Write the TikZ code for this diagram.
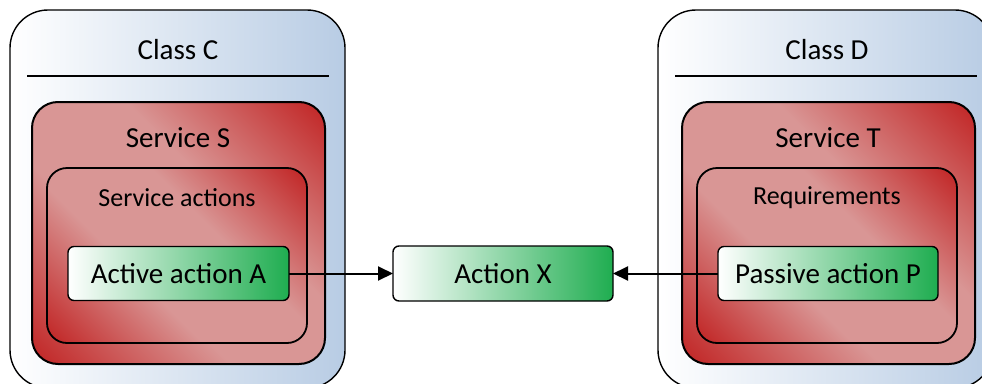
\documentclass[tikz,border=0pt]{standalone}
\usepackage{fontspec}
\setmainfont{Carlito}
\usetikzlibrary{arrows.meta}
\definecolor{dred}{RGB}{192,32,32}
\definecolor{lred}{RGB}{217,150,149}
\definecolor{cblue}{RGB}{184,204,228}
\definecolor{cgreen}{RGB}{31,173,80}
\pgfdeclarehorizontalshading{redband}{100bp}{color(0bp)=(dred); color(14bp)=(dred); color(40bp)=(lred); color(60bp)=(lred); color(86bp)=(dred); color(100bp)=(dred)}
\tikzset{
  classbox/.style={draw=black, line width=1.4pt, rounded corners=38pt, left color=white, right color=cblue, minimum width=335pt, minimum height=378pt, inner sep=0pt, outer sep=0pt},
  servbox/.style={draw=black, line width=2pt, rounded corners=26pt, shading=redband, shading angle=45, minimum width=293pt, minimum height=262pt, inner sep=0pt, outer sep=0pt},
  inbox/.style={draw=black, line width=1.8pt, rounded corners=20pt, shading=redband, shading angle=45, minimum width=260pt, minimum height=175pt, inner sep=0pt, outer sep=0pt},
  actbox/.style={draw=black, line width=1.4pt, rounded corners=6pt, left color=white, right color=cgreen, minimum width=220pt, minimum height=54pt, inner sep=0pt, outer sep=0pt, font=\fontsize{29}{34}\selectfont},
  bigtxt/.style={font=\fontsize{29}{34}\selectfont, inner sep=0pt},
  midtxt/.style={font=\fontsize{26}{31}\selectfont, inner sep=0pt},
  sepline/.style={line width=1.6pt},
  arr/.style={line width=2pt, -{Triangle[length=15pt,width=14pt]}}
}
\begin{document}
\begin{tikzpicture}[x=1pt,y=-1pt]
\useasboundingbox (0,0) rectangle (982,383);
\clip (0,0) rectangle (982,383);
% classes
\node[classbox] (C) at (177.5,199) {};
\node[classbox] (D) at (825.5,199) {};
\node[bigtxt] (tC) at (178,50) {Class C};
\node[bigtxt] (tD) at (827,50) {Class D};
\draw[sepline] (27,76) -- (329,76);
\draw[sepline] (675,76) -- (977,76);
% services
\node[servbox] (S) at (178.5,233) {};
\node[servbox] (T) at (828.5,233) {};
\node[bigtxt] (tS) at (178,138) {Service S};
\node[bigtxt] (tT) at (828,138) {Service T};
\node[inbox] (SA) at (177,255.5) {};
\node[inbox] (R) at (827,255.5) {};
\node[midtxt] (tSA) at (177,198) {Service actions};
\node[midtxt] (tR) at (827,198) {Requirements};
% actions
\node[actbox, minimum width=221pt] (A) at (178.5,273.5) {Active action A};
\node[actbox] (P) at (828,273.5) {Passive action P};
\node[actbox, minimum height=55pt] (X) at (503,273.5) {Action X};
\draw[arr] (A.east) -- (X.west);
\draw[arr] (P.west) -- (X.east);
\end{tikzpicture}
\end{document}
